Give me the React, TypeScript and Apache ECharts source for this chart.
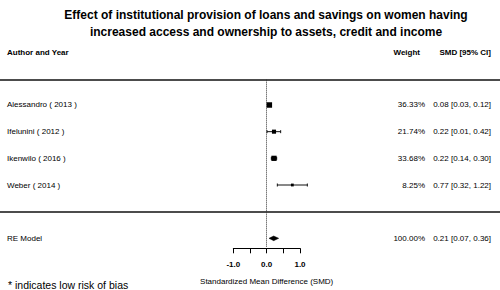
import React, { useEffect, useRef } from "react";
import * as echarts from "echarts";

const TITLE_LINES = [
  "Effect of institutional provision of loans and savings on women having",
  "increased access and ownership to assets, credit and income",
];
const studies = ["Alessandro ( 2013 )", "Ifelunini ( 2012 )", "Ikenwilo ( 2016 )", "Weber ( 2014 )"];
const smd = [0.08, 0.22, 0.22, 0.77];
const ciLower = [0.03, 0.01, 0.14, 0.32];
const ciUpper = [0.12, 0.42, 0.3, 1.22];
const weights = [36.33, 21.74, 33.68, 8.25];

const pooledLabel = "RE Model";
const pooledEst = [0.21];
const pooledLower = [0.07];
const pooledUpper = [0.36];
const pooledWeight = [100.0];

const axisMin = -1;
const axisMax = 1;
const axisInterval = 0.5;
const axisName = "Standardized Mean Difference (SMD)";
const headers = ["Author and Year", "Weight", "SMD [95% CI]"];
const footnote = "* indicates low risk of bias";

const FONT = '"Liberation Sans", Arial, Helvetica, sans-serif';
const COL_NAME_X = 7;
const COL_WEIGHT_X = 425;
const COL_CI_X = 491;

const fmtCI = (e: number, l: number, h: number) =>
  `${e.toFixed(2)} [${l.toFixed(2)}, ${h.toFixed(2)}]`;

export default function App() {
  const ref = useRef<HTMLDivElement>(null);
  useEffect(() => {
    if (!ref.current) return;
    const chart = echarts.init(ref.current, null, { renderer: "svg" });
    const k = studies.length;
    const maxW = Math.max(...weights);
    const studyData = studies.map((_, i) => [smd[i], ciLower[i], ciUpper[i], weights[i], k - i]);
    const pooledData = pooledEst.map((e, i) => [e, pooledLower[i], pooledUpper[i], pooledWeight[i], -1]);

    const txt = (text: string, x: number, y: number, align: string, extra: any = {}) => ({
      type: "text",
      style: {
        text,
        x,
        y,
        align,
        verticalAlign: "middle",
        fill: "#000",
        fontSize: 8,
        fontFamily: FONT,
        ...extra,
      },
    });

    const option: any = {
      animation: false,
      backgroundColor: "#fff",
      title: {
        text: TITLE_LINES.join("\n"),
        left: 261,
        top: 1,
        textAlign: "center",
        textStyle: { fontSize: 12, fontWeight: "bold", lineHeight: 17, fontFamily: FONT, color: "#000" },
      },
      grid: [
        { left: 0, right: 0, top: 38.33, bottom: 38.33 },
        { left: 233.33, width: 66.67, top: 247.3, height: 1 },
      ],
      xAxis: [
        { type: "value", gridIndex: 0, min: -8, max: 7, show: false },
        {
          type: "value",
          gridIndex: 1,
          min: axisMin,
          max: axisMax,
          interval: axisInterval,
          axisLine: { show: true, lineStyle: { color: "#000", width: 1 } },
          axisTick: { show: true, length: 5, lineStyle: { color: "#000", width: 1 } },
          splitLine: { show: false },
          axisLabel: {
            margin: 12,
            fontSize: 8,
            fontWeight: "bold",
            fontFamily: FONT,
            color: "#000",
            formatter: (v: number) => (Math.abs(v % 1) < 1e-9 ? v.toFixed(1) : ""),
          },
          name: axisName,
          nameLocation: "middle",
          nameGap: 29,
          nameTextStyle: { fontSize: 8, fontFamily: FONT, color: "#000" },
        },
      ],
      yAxis: [
        { type: "value", gridIndex: 0, min: -1.5, max: 6.5, show: false },
        { type: "value", gridIndex: 1, show: false },
      ],
      graphic: [
        txt(headers[0], COL_NAME_X, 52.5, "left", { fontWeight: "bold" }),
        txt(headers[1], 420, 52.5, "right", { fontWeight: "bold" }),
        txt(headers[2], COL_CI_X, 52.5, "right", { fontWeight: "bold" }),
        txt(footnote, 8, 285, "left", { fontSize: 10.5 }),
      ],
      series: [
        {
          type: "custom",
          xAxisIndex: 0,
          yAxisIndex: 0,
          clip: false,
          data: studyData,
          renderItem: (params: any, api: any) => {
            const i = params.dataIndex;
            const est = api.value(0);
            const lo = api.value(1);
            const hi = api.value(2);
            const w = api.value(3);
            const row = api.value(4);
            const [xe, y] = api.coord([est, row]);
            const xl = api.coord([lo, row])[0];
            const xh = api.coord([hi, row])[0];
            const s = 2 + (3.5 * w) / maxW;
            const ls = { stroke: "#111", lineWidth: 1 };
            return {
              type: "group",
              children: [
                { type: "line", shape: { x1: xl, y1: y, x2: xh, y2: y }, style: ls },
                { type: "line", shape: { x1: xl, y1: y - 1.5, x2: xl, y2: y + 1.5 }, style: ls },
                { type: "line", shape: { x1: xh, y1: y - 1.5, x2: xh, y2: y + 1.5 }, style: ls },
                { type: "rect", shape: { x: xe - s / 2, y: y - s / 2, width: s, height: s }, style: { fill: "#000" } },
                txt(studies[i], COL_NAME_X, y, "left"),
                txt(`${w.toFixed(2)}%`, COL_WEIGHT_X, y, "right"),
                txt(fmtCI(est, lo, hi), COL_CI_X, y, "right"),
              ],
            };
          },
          markLine: {
            silent: true,
            symbol: ["none", "none"],
            label: { show: false },
            data: [
              { yAxis: 4.95, lineStyle: { color: "#111", width: 1.5, type: "solid" } },
              { yAxis: 0, lineStyle: { color: "#111", width: 1.5, type: "solid" } },
              [
                { coord: [0, 4.95], lineStyle: { color: "#333", width: 1, type: [1, 1] } },
                { coord: [0, -1.35] },
              ],
            ],
          },
        },
        {
          type: "custom",
          xAxisIndex: 0,
          yAxisIndex: 0,
          clip: false,
          data: pooledData,
          renderItem: (params: any, api: any) => {
            const est = api.value(0);
            const lo = api.value(1);
            const hi = api.value(2);
            const w = api.value(3);
            const row = api.value(4);
            const [xe, y] = api.coord([est, row]);
            const xl = api.coord([lo, row])[0];
            const xh = api.coord([hi, row])[0];
            return {
              type: "group",
              children: [
                {
                  type: "polygon",
                  shape: { points: [[xl, y], [xe, y - 2.3], [xh, y], [xe, y + 2.3]] },
                  style: { fill: "#000", stroke: "#000", lineWidth: 0.5 },
                },
                txt(pooledLabel, COL_NAME_X, y, "left"),
                txt(`${w.toFixed(2)}%`, COL_WEIGHT_X, y, "right"),
                txt(fmtCI(est, lo, hi), COL_CI_X, y, "right"),
              ],
            };
          },
        },
      ],
    };
    chart.setOption(option);
    return () => chart.dispose();
  }, []);
  return (
    <div
      ref={ref}
      style={{ position: "fixed", left: 0, top: 0, width: 500, height: 290, background: "#fff" }}
    />
  );
}
